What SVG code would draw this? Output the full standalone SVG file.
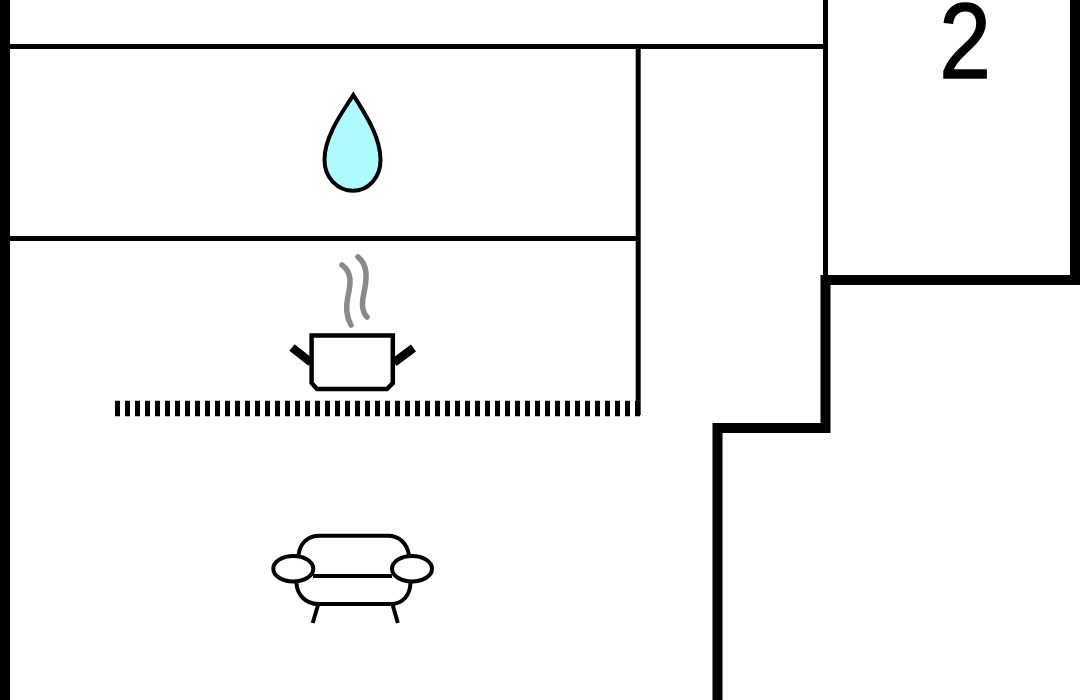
<svg xmlns="http://www.w3.org/2000/svg" width="1080" height="700" viewBox="0 0 1080 700">
  <style>
    .wall { fill: none; stroke: #000; stroke-width: 10; stroke-linejoin: miter; }
    .thin { fill: none; stroke: #000; stroke-width: 5; }
    .icon { fill: none; stroke: #000; stroke-width: 4; stroke-linecap: butt; stroke-linejoin: round; }
    .steam { fill: none; stroke: #8a8a8a; stroke-width: 5.500; stroke-linecap: round; }
    .num { font-family: "Liberation Sans", Arial, sans-serif; font-size: 108px; fill: #000; stroke: #000; stroke-width: 1.500; text-anchor: middle; }
  </style>
  <rect width="1080" height="700" fill="#fff"/>
  <g id="walls">
    <path class="thin" d="M10 46.500H826M638.200 46.500V415M10 238.500H638.200M825.500 0V280"/>
    <path class="thin" d="M115 408.500H640" style="stroke-width:15.500;stroke-dasharray:5 5"/>
    <path class="wall" d="M5 0V700M1075 0V280H825.500V428H717.500V700"/>
  </g>
  <g id="label-2"><text class="num" transform="translate(965 77.500) scale(0.86 1)">2</text></g>
  <g id="water-drop">
    <path d="M353.300 95C344 110 324.500 135 324.500 160C324.500 178 338 190.800 353 190.800C368 190.800 380.500 178 380.500 160C380.500 135 362.500 110 353.300 95Z" fill="#aefbfd" stroke="#000" stroke-width="4" stroke-linejoin="miter"/>
  </g>
  <g id="cooking-pot">
    <path class="steam" d="M342 265C352 272 351 283 348 296C345 309 347 318 351 325"/>
    <path class="steam" d="M358 257C368 265 367 278 364 293C361 305 362 312 367 317"/>
    <path d="M292 347.500L311 362.500M413.500 348L394 362.500" fill="none" stroke="#000" stroke-width="8.500" stroke-linecap="butt"/>
    <path d="M311.600 335.500H392.800V383L387 389H317L311.600 383Z" fill="#fff" stroke="#000" stroke-width="4.500" stroke-linejoin="miter"/>
  </g>
  <g id="sofa">
    <path class="icon" d="M298.500 555C300 543 308 535.800 319 535.800H388C399 535.800 407 543 409 555"/>
    <path class="icon" d="M313 576H392"/>
    <path class="icon" d="M296.500 583C297 595 306 604 318 604H391C403 604 410 595 410.500 583"/>
    <path class="icon" d="M318 605L312.700 623M392.700 605L397.800 623"/>
    <ellipse class="icon" cx="293.300" cy="568.700" rx="20" ry="12.800"/>
    <ellipse class="icon" cx="412" cy="568.700" rx="20" ry="12.800"/>
  </g>
</svg>
